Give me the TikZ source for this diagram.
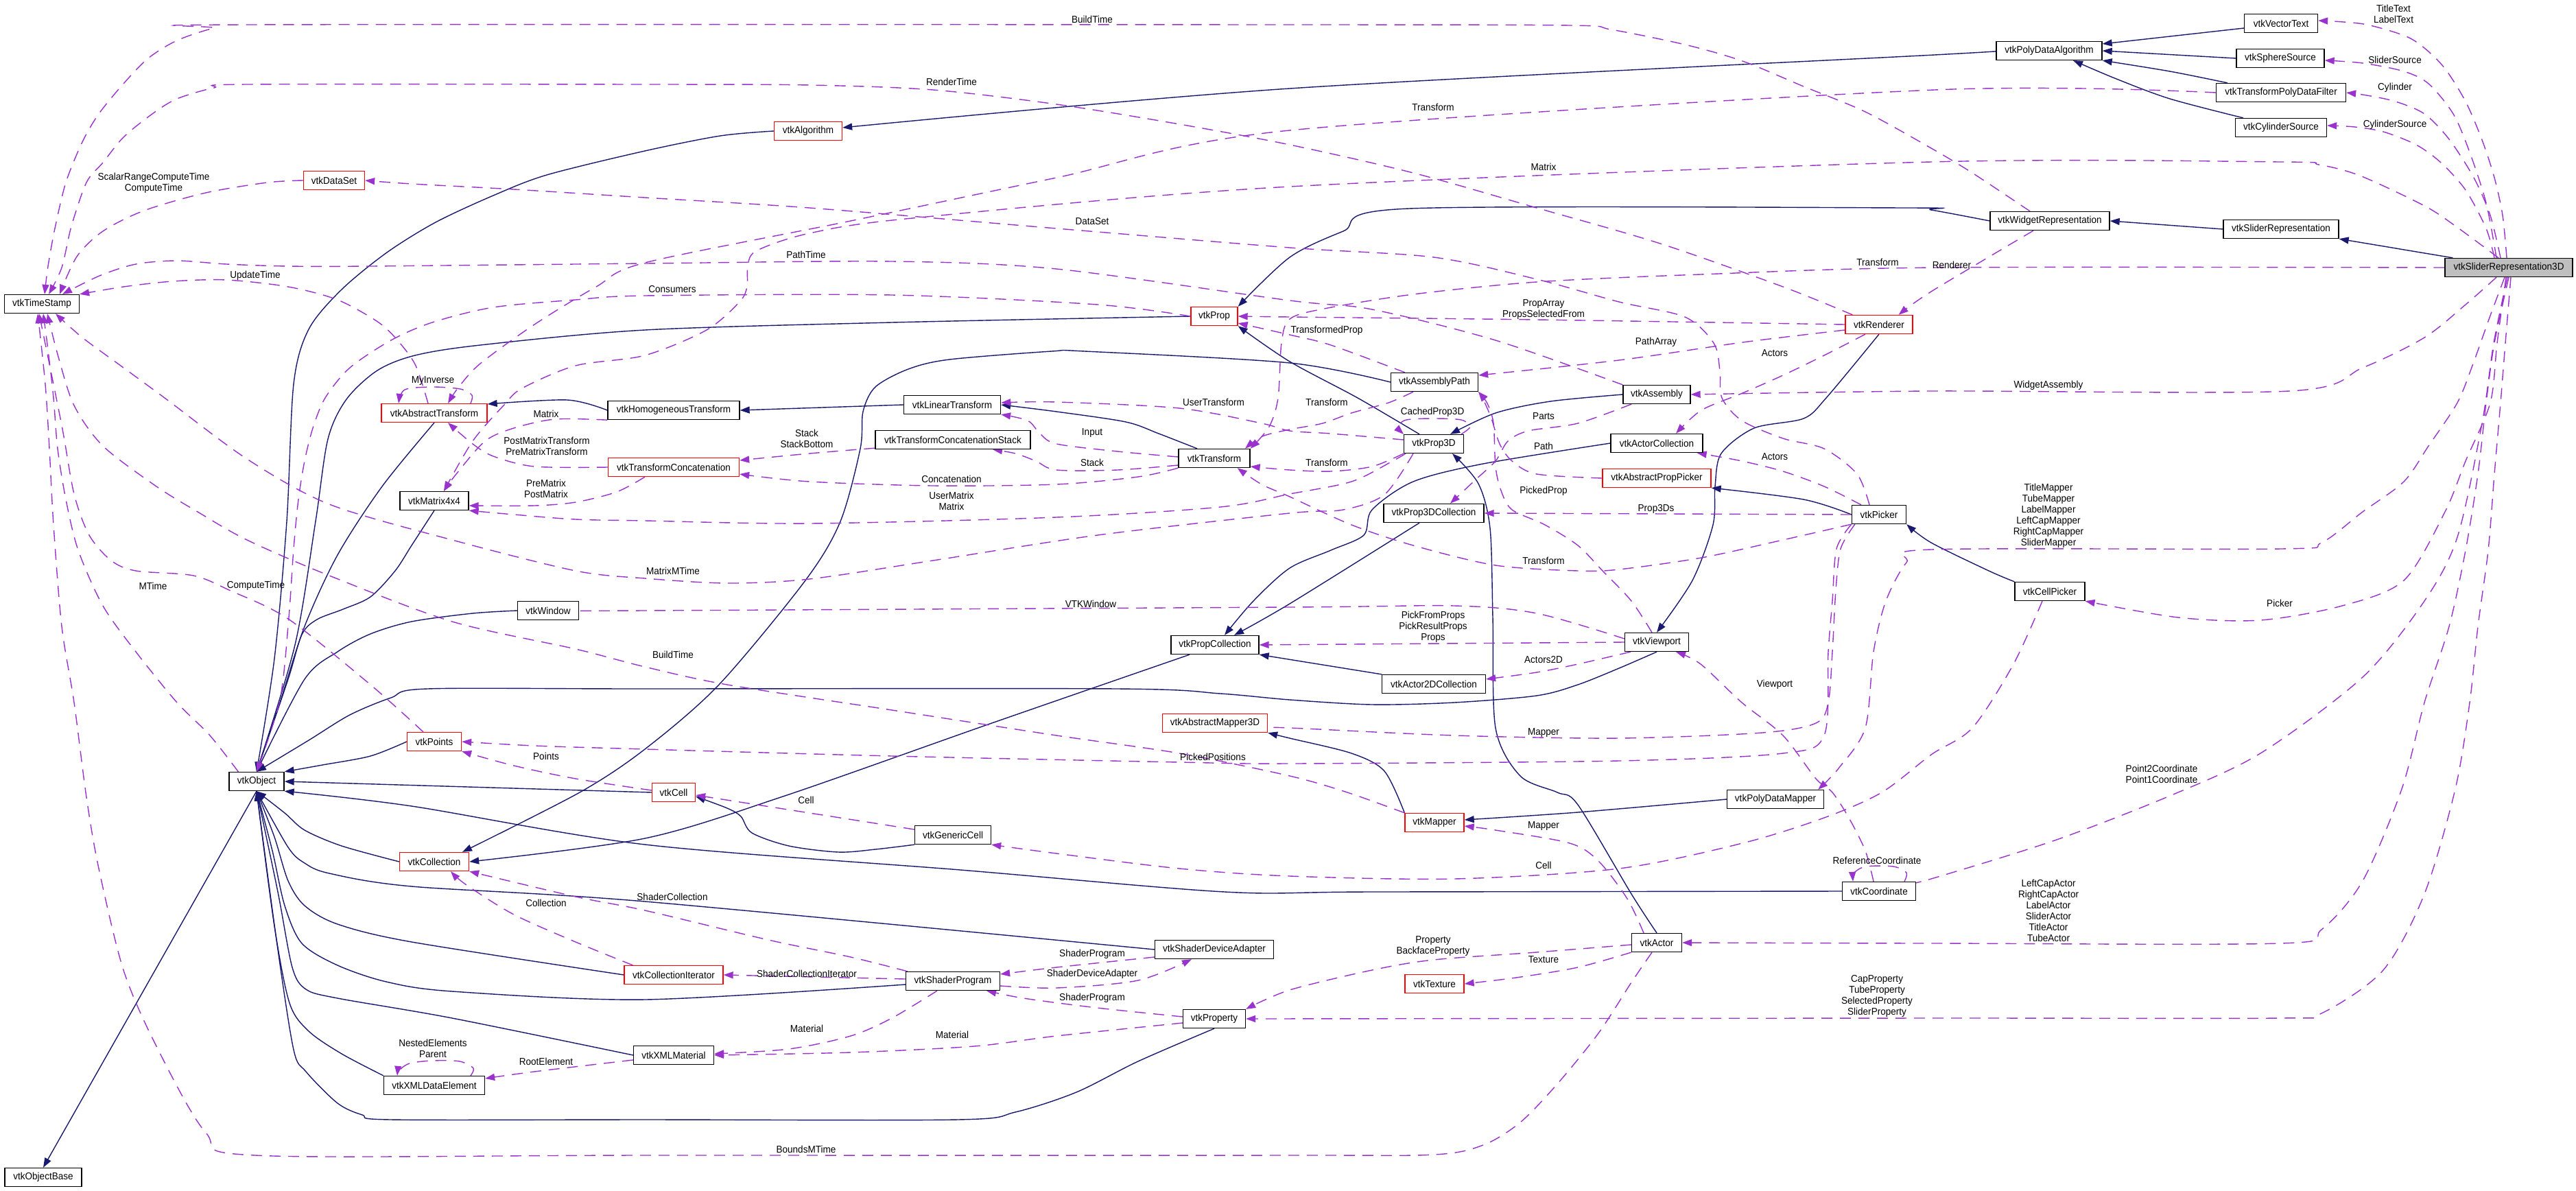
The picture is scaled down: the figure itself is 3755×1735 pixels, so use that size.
\documentclass[tikz,border=0pt]{standalone}
\usepackage{fontspec}
\setmainfont{Liberation Sans}[FakeStretch=0.94]
\usetikzlibrary{arrows.meta,calc}
\definecolor{midblue}{HTML}{191970}
\definecolor{orchid}{HTML}{9A32CD}
\definecolor{selgray}{HTML}{BFBFBF}
\pgfdeclarelayer{bg}
\pgfdeclarelayer{edges}
\pgfsetlayers{bg,edges,main}
\tikzset{
 cls/.style={draw=black, fill=white, line width=1.3pt, minimum height=27pt, inner sep=0pt, font=\fontsize{14.4}{16}\selectfont},
 redcls/.style={cls, draw=red},
 lbl/.style={inner sep=0pt, align=center, font=\fontsize{14.4}{16}\selectfont},
 inherit/.style={draw=midblue, line width=1.4pt, -{Triangle[length=14pt,width=10pt]}},
 usage/.style={draw=orchid, line width=1.4pt, dash pattern=on 16pt off 11pt, -{Triangle[length=14pt,width=10pt]}},
}
\begin{document}
\begin{tikzpicture}[x=1pt,y=-1pt]
\useasboundingbox (0,0) rectangle (3755,1735);
\begin{pgfonlayer}{bg}
\fill[white] (0,0) rectangle (3755,1735);
\end{pgfonlayer}
% ---------- classes ----------
\node[cls, minimum width=112pt] (objbase) at (63,1716) {vtkObjectBase};
\node[cls, minimum width=80pt] (obj) at (374,1139) {vtkObject};
\node[cls, minimum width=109pt] (ts) at (61,443) {vtkTimeStamp};
\node[redcls, minimum width=89pt] (dataset) at (487,263) {vtkDataSet};
\node[redcls, minimum width=99pt] (algo) at (1178,191) {vtkAlgorithm};
\node[cls, minimum width=154pt] (pda) at (2987,74) {vtkPolyDataAlgorithm};
\node[cls, minimum width=107pt] (vtext) at (3325,34) {vtkVectorText};
\node[cls, minimum width=128pt] (sphere) at (3324,85) {vtkSphereSource};
\node[cls, minimum width=189pt] (tpdf) at (3325,135) {vtkTransformPolyDataFilter};
\node[cls, minimum width=133pt] (cyl) at (3325,186) {vtkCylinderSource};
\node[cls, minimum width=174pt] (wrep) at (2988,322) {vtkWidgetRepresentation};
\node[cls, minimum width=168pt] (srep) at (3325,334) {vtkSliderRepresentation};
\node[cls, fill=selgray, minimum width=186pt] (srep3d) at (3657,390) {vtkSliderRepresentation3D};
\node[redcls, minimum width=68pt] (prop) at (1770,461) {vtkProp};
\node[redcls, minimum width=98pt] (ren) at (2739,473) {vtkRenderer};
\node[cls, minimum width=127pt] (apath) at (2091,557) {vtkAssemblyPath};
\node[cls, minimum width=98pt] (assembly) at (2415,575) {vtkAssembly};
\node[redcls, minimum width=154pt] (atrans) at (633,602) {vtkAbstractTransform};
\node[cls, minimum width=192pt] (htrans) at (982,598) {vtkHomogeneousTransform};
\node[cls, minimum width=141pt] (ltrans) at (1388,590) {vtkLinearTransform};
\node[cls, minimum width=226pt] (tcs) at (1389,641) {vtkTransformConcatenationStack};
\node[redcls, minimum width=191pt] (tconc) at (982,681) {vtkTransformConcatenation};
\node[cls, minimum width=104pt] (trans) at (1770,668) {vtkTransform};
\node[cls, minimum width=100pt] (m44) at (633,730) {vtkMatrix4x4};
\node[cls, minimum width=87pt] (prop3d) at (2090,647) {vtkProp3D};
\node[cls, minimum width=134pt] (actcoll) at (2415,646) {vtkActorCollection};
\node[redcls, minimum width=158pt] (appick) at (2415,697) {vtkAbstractPropPicker};
\node[cls, minimum width=146pt] (p3dcoll) at (2090,748) {vtkProp3DCollection};
\node[cls, minimum width=79pt] (picker) at (2739,750) {vtkPicker};
\node[cls, minimum width=89pt] (window) at (799,890) {vtkWindow};
\node[cls, minimum width=128pt] (propcoll) at (1771,940) {vtkPropCollection};
\node[cls, minimum width=93pt] (viewport) at (2415,936) {vtkViewport};
\node[cls, minimum width=151pt] (a2dcoll) at (2090,997) {vtkActor2DCollection};
\node[cls, minimum width=102pt] (cellpicker) at (2988,862) {vtkCellPicker};
\node[redcls, minimum width=153pt] (am3d) at (1771,1054) {vtkAbstractMapper3D};
\node[redcls, minimum width=79pt] (points) at (633,1081) {vtkPoints};
\node[redcls, minimum width=63pt] (cell) at (982,1155) {vtkCell};
\node[redcls, minimum width=86pt] (mapper) at (2091,1199) {vtkMapper};
\node[cls, minimum width=141pt] (pdmapper) at (2588,1165) {vtkPolyDataMapper};
\node[cls, minimum width=111pt] (gcell) at (1389,1217) {vtkGenericCell};
\node[redcls, minimum width=101pt] (coll) at (633,1256) {vtkCollection};
\node[cls, minimum width=107pt] (coord) at (2739,1299) {vtkCoordinate};
\node[cls, minimum width=73pt] (actor) at (2415,1374) {vtkActor};
\node[redcls, minimum width=144pt] (colliter) at (982,1421) {vtkCollectionIterator};
\node[cls, minimum width=173pt] (sda) at (1770,1384) {vtkShaderDeviceAdapter};
\node[cls, minimum width=137pt] (sprog) at (1389,1430) {vtkShaderProgram};
\node[cls, minimum width=91pt] (property) at (1770,1485) {vtkProperty};
\node[redcls, minimum width=86pt] (texture) at (2091,1434) {vtkTexture};
\node[cls, minimum width=117pt] (xmlmat) at (982,1538) {vtkXMLMaterial};
\node[cls, minimum width=147pt] (xmlde) at (633,1582) {vtkXMLDataElement};
% ---------- labels ----------
\node[lbl] (l01) at (1592,28) {BuildTime};
\node[lbl] (l02) at (1387,119) {RenderTime};
\node[lbl] (l03) at (224,267) {ScalarRangeComputeTime\\ComputeTime};
\node[lbl] (l04) at (372,402) {UpdateTime};
\node[lbl] (l05) at (631,555) {MyInverse};
\node[lbl] (l06) at (1592,323) {DataSet};
\node[lbl] (l07) at (1175,371) {PathTime};
\node[lbl] (l08) at (980,422) {Consumers};
\node[lbl] (l09) at (2089,156) {Transform};
\node[lbl] (l10) at (2250,243) {Matrix};
\node[lbl] (l11) at (2737,382) {Transform};
\node[lbl] (l12) at (2845,386) {Renderer};
\node[lbl] (l13) at (2250,451) {PropArray\\PropsSelectedFrom};
\node[lbl] (l14) at (1934,482) {TransformedProp};
\node[lbl] (l15) at (2414,499) {PathArray};
\node[lbl] (l16) at (2587,515) {Actors};
\node[lbl] (l17) at (3489,20) {TitleText\\LabelText};
\node[lbl] (l18) at (3491,87) {SliderSource};
\node[lbl] (l19) at (3491,128) {Cylinder};
\node[lbl] (l20) at (3491,182) {CylinderSource};
\node[lbl] (l21) at (2986,562) {WidgetAssembly};
\node[lbl] (l22) at (796,603) {Matrix};
\node[lbl] (l23) at (797,650) {PostMatrixTransform\\PreMatrixTransform};
\node[lbl] (l24) at (796,712) {PreMatrix\\PostMatrix};
\node[lbl] (l25) at (1769,586) {UserTransform};
\node[lbl] (l26) at (1176,639) {Stack\\StackBottom};
\node[lbl] (l27) at (1592,631) {Input};
\node[lbl] (l28) at (1592,674) {Stack};
\node[lbl] (l29) at (1387,698) {Concatenation};
\node[lbl] (l30) at (1387,730) {UserMatrix\\Matrix};
\node[lbl] (l31) at (1934,586) {Transform};
\node[lbl] (l32) at (2088,601) {CachedProp3D};
\node[lbl] (l33) at (2250,607) {Parts};
\node[lbl] (l34) at (2250,650) {Path};
\node[lbl] (l35) at (1934,674) {Transform};
\node[lbl] (l36) at (2587,666) {Actors};
\node[lbl] (l37) at (2250,716) {PickedProp};
\node[lbl] (l38) at (2414,742) {Prop3Ds};
\node[lbl] (l39) at (2250,817) {Transform};
\node[lbl] (l40) at (981,832) {MatrixMTime};
\node[lbl] (l41) at (223,854) {MTime};
\node[lbl] (l42) at (373,854) {ComputeTime};
\node[lbl] (l43) at (1590,880) {VTKWindow};
\node[lbl] (l44) at (2089,914) {PickFromProps\\PickResultProps\\Props};
\node[lbl] (l45) at (981,954) {BuildTime};
\node[lbl] (l46) at (2250,962) {Actors2D};
\node[lbl] (l47) at (2587,998) {Viewport};
\node[lbl] (l48) at (2250,1068) {Mapper};
\node[lbl] (l49) at (1768,1103) {PickedPositions};
\node[lbl] (l50) at (796,1102) {Points};
\node[lbl] (l51) at (2986,752) {TitleMapper\\TubeMapper\\LabelMapper\\LeftCapMapper\\RightCapMapper\\SliderMapper};
\node[lbl] (l52) at (3323,879) {Picker};
\node[lbl] (l53) at (3151,1128) {Point2Coordinate\\Point1Coordinate};
\node[lbl] (l54) at (1175,1166) {Cell};
\node[lbl] (l55) at (2250,1204) {Mapper};
\node[lbl] (l56) at (2250,1261) {Cell};
\node[lbl] (l57) at (2736,1254) {ReferenceCoordinate};
\node[lbl] (l58) at (796,1316) {Collection};
\node[lbl] (l59) at (980,1307) {ShaderCollection};
\node[lbl] (l60) at (2986,1327) {LeftCapActor\\RightCapActor\\LabelActor\\SliderActor\\TitleActor\\TubeActor};
\node[lbl] (l61) at (2089,1379) {Property\\BackfaceProperty};
\node[lbl] (l62) at (1592,1391) {ShaderProgram};
\node[lbl] (l63) at (2250,1399) {Texture};
\node[lbl] (l64) at (1176,1419) {ShaderCollectionIterator};
\node[lbl] (l65) at (1592,1420) {ShaderDeviceAdapter};
\node[lbl] (l66) at (2736,1452) {CapProperty\\TubeProperty\\SelectedProperty\\SliderProperty};
\node[lbl] (l67) at (1592,1455) {ShaderProgram};
\node[lbl] (l68) at (1176,1499) {Material};
\node[lbl] (l69) at (1388,1508) {Material};
\node[lbl] (l70) at (631,1528) {NestedElements\\Parent};
\node[lbl] (l71) at (796,1547) {RootElement};
\node[lbl] (l72) at (1175,1675) {BoundsMTime};
% ---------- edges ----------
\begin{pgfonlayer}{edges}
% inheritance
\draw[inherit] (obj.south) -- (objbase.north);
\draw[inherit] plot[smooth] coordinates {(algo.west) (1050,198) (940,220) (797,255) (719,285) (635,324) (564,368) (498,422) (450,480) (428,560) (418,760) (400,960) (obj.north)};
\draw[inherit] plot[smooth] coordinates {(prop.west) (1300,470) (940,481) (700,503) (605,518) (550,540) (505,582) (478,640) (460,760) (430,940) (obj.north)};
\draw[inherit] plot[smooth] coordinates {(atrans.south) (557,709) (492,809) (444,913) (408,1024) (obj.north)};
\draw[inherit] plot[smooth] coordinates {(m44.south) (600,795) (576,832) (540,870) (500,888) (462,903) (440,925) (420,990) (obj.north)};
\draw[inherit] plot[smooth] coordinates {(window.west) (689,894) (600,906) (540,924) (492,950) (444,990) (obj.north)};
\draw[inherit] plot[smooth] coordinates {(viewport.south) (2360,974) (2300,998) (2240,1014) (2120,1024) (2000,1027) (1880,1020) (1779,1011) (1629,1004) (940,1004) (623,1004) (570,1017) (510,1042) (450,1079) (obj.north)};
\draw[inherit] plot[smooth] coordinates {(points.west) (540,1102) (470,1115) (obj.north east)};
\draw[inherit] (cell.west) -- (obj.east);
\draw[inherit] plot[smooth] coordinates {(coord.west) (2000,1300) (1785,1300) (1400,1268) (940,1231) (600,1175) (obj.south east)};
\draw[inherit] plot[smooth] coordinates {(coll.west) (498,1233) (444,1210) (415,1185) (obj.south)};
\draw[inherit] plot[smooth] coordinates {(sda.west) (940,1314) (600,1292) (480,1273) (444,1258) (420,1235) (obj.south)};
\draw[inherit] plot[smooth] coordinates {(colliter.west) (600,1373) (492,1347) (444,1320) (420,1284) (400,1220) (obj.south)};
\draw[inherit] plot[smooth] coordinates {($(sprog.west)+(0,5)$) (940,1457) (659,1445) (563,1431) (492,1407) (440,1375) (415,1320) (397,1240) (obj.south)};
\draw[inherit] plot[smooth] coordinates {(xmlmat.west) (659,1484) (492,1455) (446,1442) (426,1410) (405,1300) (obj.south)};
\draw[inherit] plot[smooth] coordinates {(xmlde.north west) (498,1536) (450,1503) (422,1462) (400,1350) (obj.south)};
\draw[inherit] plot[smooth] coordinates {(property.south) (1659,1547) (1569,1592) (1480,1621) (1396,1632) (940,1632) (570,1632) (528,1625) (492,1608) (446,1562) (428,1530) (404,1377) (obj.south)};
\draw[inherit] plot[smooth] coordinates {(htrans.west) (827,583) ($(atrans.east)+(0,-13)$)};
\draw[inherit] (ltrans.west) -- (htrans.east);
\draw[inherit] plot[smooth] coordinates {($(trans.north)+(-25,0)$) (1689,632) (1641,615) (1540,600) (ltrans.east)};
\draw[inherit] plot[smooth] coordinates {(pda.west) (2820,80) (1880,129) ($(algo.east)+(0,-5)$)};
\draw[inherit] ($(vtext.west)+(0,7)$) -- ($(pda.east)+(0,-10)$);
\draw[inherit] (sphere.west) -- (pda.east);
\draw[inherit] plot[smooth] coordinates {($(tpdf.north west)+(17,0)$) (3163,104) (pda.south east)};
\draw[inherit] plot[smooth] coordinates {($(cyl.north west)+(12,0)$) (3163,144) (3085,115) ($(pda.south)+(35,0)$)};
\draw[inherit] (srep.west) -- (wrep.east);
\draw[inherit] ($(srep3d.north west)+(12,0)$) -- (srep.south east);
\draw[inherit] plot[smooth] coordinates {(wrep.west) (2815,306) (2779,303) (2054,304) (1958,337) (1880,375) (prop.north east)};
\draw[inherit] plot[smooth] coordinates {($(prop3d.north)+(-21,0)$) (1979,580) (1880,527) (prop.south east)};
\draw[inherit] plot[smooth] coordinates {(apath.west) (1880,529) (1581,512) (1533,512) (1384,524) (1324,538) (1276,564) (1258,600) (1254,654) (1225,760) (1174,846) (1048,998) (940,1092) (845,1155) ($(coll.north)+(41,0)$)};
\draw[inherit] plot[smooth] coordinates {(assembly.west) (2260,585) (2180,602) ($(prop3d.north)+(24,0)$)};
\draw[inherit] plot[smooth] coordinates {(actor.north) (2378,1303) (2300,1173) (2270,1155) (2216,1131) (2180,1061) (2176,900) (2172,770) (2155,705) ($(prop3d.south)+(27,0)$)};
\draw[inherit] plot[smooth] coordinates {(ren.south) (2662,580) (2629,610) (2557,624) (2509,661) (2500,709) (2497,765) (2467,846) (viewport.north)};
\draw[inherit] plot[smooth] coordinates {(actcoll.west) (2162,676) (2060,702) (2000,743) (1988,780) (1940,802) (1880,828) (1827,876) ($(propcoll.north)+(14,0)$)};
\draw[inherit] plot[smooth] coordinates {($(p3dcoll.south)+(-21,0)$) (1880,880) ($(propcoll.north)+(28,0)$)};
\draw[inherit] (a2dcoll.north west) -- (propcoll.south east);
\draw[inherit] plot[smooth] coordinates {(picker.west) (2629,728) (appick.south east)};
\draw[inherit] plot[smooth] coordinates {(cellpicker.north west) (2899,832) (2815,791) (picker.south east)};
\draw[inherit] plot[smooth] coordinates {(mapper.north west) (2018,1124) (1970,1098) (1880,1076) (am3d.south east)};
\draw[inherit] plot[smooth] coordinates {(pdmapper.west) (2300,1184) ($(mapper.east)+(0,-4)$)};
\draw[inherit] plot[smooth] coordinates {(gcell.south west) (1276,1238) (1222,1242) (1150,1233) (1096,1214) (1080,1190) (1060,1178) ($(cell.east)+(0,6)$)};
\draw[inherit] plot[smooth] coordinates {($(propcoll.south)+(-37,0)$) (1440,1056) (1144,1160) (940,1222) (coll.east)};
% usage
\draw[usage] plot[smooth] coordinates {($(wrep.north)+(-29,0)$) (2875,252) (2815,216) (2719,163) (2629,126) (2540,89) (2456,65) (2348,43) (2288,37) (1880,36) (360,36) (312,41) (258,59) (216,85) (180,122) (144,166) (120,207) (96,266) (80,333) (70,388) ($(ts.north)+(4,0)$)};
\draw[usage] plot[smooth] coordinates {($(ren.north west)+(11,0)$) (2599,418) (2420,355) (2240,303) (2060,252) (1880,211) (1719,181) (1540,152) (1360,131) (1180,124) (940,123) (360,123) (312,128) (258,144) (222,166) (180,200) (150,237) (126,266) (104,330) (90,390) ($(ts.north)+(10,0)$)};
\draw[usage] plot[smooth] coordinates {(dataset.west) (390,266) (300,281) (210,307) (150,337) (112,374) ($(ts.north)+(26,0)$)};
\draw[usage] plot[smooth] coordinates {(assembly.north west) (2180,496) (2000,451) (1880,438) (1540,392) (1300,381) (940,384) (540,388) (420,388) (330,385) (258,380) (198,385) (145,402) ($(ts.north)+(30,0)$)};
\draw[usage] plot[smooth] coordinates {($(atrans.north)+(-9,0)$) (606,533) (582,499) (552,470) (492,437) (420,418) (330,408) (252,410) (180,418) (ts.north east)};
\draw[usage] plot[smooth] coordinates {($(atrans.north)+(53,0)$) (688,576) (671,567) (630,564) (590,568) ($(atrans.north)+(-52,0)$)};
\draw[usage] plot[smooth] coordinates {(tpdf.west) (2820,131) (1880,190) (1540,259) (1240,322) (940,383) (869,418) (779,473) (700,530) (668,565) ($(atrans.north)+(20,0)$)};
\draw[usage] plot[smooth] coordinates {($(srep3d.north)+(-15,0)$) (3580,330) (3534,300) (3440,256) (3380,240) (3325,236) (2815,236) (1880,272) (1330,318) (1180,340) (1102,366) (1090,390) (1089,418) (1078,440) (1030,481) (940,518) (839,533) (761,566) (735,590) (689,643) ($(m44.north)+(14,0)$)};
\draw[usage] plot[smooth] coordinates {(htrans.south west) (809,611) (749,624) (707,643) (665,691) ($(m44.north)+(14,0)$)};
\draw[usage] plot[smooth] coordinates {(tconc.west) (779,680) (719,665) (689,647) ($(atrans.south)+(20,0)$)};
\draw[usage] plot[smooth] coordinates {($(tconc.south)+(-42,0)$) (899,717) (839,732) (779,737) ($(m44.east)+(0,7)$)};
\draw[usage] plot[smooth] coordinates {($(prop3d.south west)+(3,0)$) (2030,672) (1970,702) (1880,720) (1779,739) (1540,754) (1180,763) (940,759) (839,757) (749,750) (m44.south east)};
\draw[usage] plot[smooth] coordinates {($(prop3d.west)+(0,-6)$) (1940,632) (1880,628) (1839,617) (1719,595) (1540,586) ($(ltrans.east)+(0,-3)$)};
\draw[usage] plot[smooth] coordinates {($(trans.west)+(0,-2)$) (1629,658) (1540,647) (1516,632) (1498,613) (ltrans.south east)};
\draw[usage] plot[smooth] coordinates {($(trans.west)+(0,10)$) (1629,685) (1540,685) (1510,672) (1480,661) ($(tcs.south)+(58,0)$)};
\draw[usage] plot[smooth] coordinates {(trans.south west) (1659,695) (1540,706) (1360,708) (1180,702) ($(tconc.east)+(0,10)$)};
\draw[usage] plot[smooth] coordinates {($(tcs.south west)+(0,-2)$) (1180,661) ($(tconc.east)+(0,-10)$)};
\draw[usage] plot[smooth] coordinates {(prop3d.south west) (2000,680) (1940,687) (1880,685) ($(trans.east)+(0,12)$)};
\draw[usage] plot[smooth] coordinates {($(apath.south)+(-31,0)$) (2024,587) (1970,602) (1928,617) (1880,626) (1840,636) ($(trans.north)+(45,0)$)};
\draw[usage] plot[smooth] coordinates {(srep3d.west) (2820,390) (2479,400) (2240,411) (2060,429) (1930,450) (1880,465) (1868,500) (1863,580) (1850,622) (trans.north east)};
\draw[usage] plot[smooth] coordinates {($(wrep.south)+(-24,0)$) (2815,425) ($(ren.north east)+(-21,0)$)};
\draw[usage] plot[smooth] coordinates {(ren.west) (2240,466) (1880,462) (prop.east)};
\draw[usage] plot[smooth] coordinates {($(apath.north west)+(21,0)$) (1940,503) (1880,488) ($(prop.east)+(0,10)$)};
\draw[usage] plot[smooth] coordinates {(prop.west) (1600,444) (1300,430) (940,431) (839,437) (719,448) (630,470) (570,496) (510,536) (474,580) (456,624) (444,672) (435,728) (428,800) (421,900) (408,1020) (obj.north)};
\draw[usage] plot[smooth] coordinates {($(picker.north)+(-14,0)$) (2707,691) (2659,654) (2599,639) (2539,613) (2510,580) (2507,540) (2498,500) (2456,462) (2360,440) (2240,407) (2090,375) (1880,361) (1540,333) (1180,303) (940,288) (749,276) (600,268) (dataset.east)};
\draw[usage] plot[smooth] coordinates {($(ren.west)+(0,8)$) (2540,499) (2360,525) ($(apath.east)+(0,-10)$)};
\draw[usage] plot[smooth] coordinates {($(ren.south)+(-20,0)$) (2659,518) (2599,547) (2540,573) (2480,598) ($(actcoll.north)+(28,0)$)};
\draw[usage] plot[smooth] coordinates {($(picker.north)+(-26,0)$) (2659,709) (2599,687) (2539,672) ($(actcoll.south east)+(-9,0)$)};
\draw[usage] plot[smooth] coordinates {($(assembly.south)+(-37,0)$) (2300,617) (2228,628) (2198,643) (2180,672) (2150,700) ($(p3dcoll.north)+(24,0)$)};
\draw[usage] plot[smooth] coordinates {(appick.west) (2240,691) (2204,672) (2186,647) (2174,610) (2162,582) (apath.south east)};
\draw[usage] plot[smooth] coordinates {($(viewport.north)+(-7,0)$) (2378,876) (2336,832) (2300,795) (2252,765) (2204,743) (2188,715) (2180,680) (2177,617) (2168,588) (apath.south east)};
\draw[usage] (picker.west) -- (p3dcoll.east);
\draw[usage] plot[smooth] coordinates {(picker.south west) (2599,787) (2480,813) (2360,830) (2300,832) (2180,824) (2060,795) (1970,765) (1880,724) (1839,706) ($(trans.south east)+(-19,0)$)};
\draw[usage] plot[smooth] coordinates {($(prop3d.south)+(-30,0)$) (2018,721) (1958,743) (1880,748) (1600,780) (1360,817) (1180,844) (1060,850) (940,843) (839,832) (659,787) (480,735) (360,669) (240,580) (180,536) (120,492) ($(ts.south)+(20,0)$)};
\draw[usage] plot[smooth] coordinates {($(viewport.west)+(0,-5)$) (2240,894) (2120,883) (1880,885) (940,890) (window.east)};
\draw[usage] (viewport.west) -- (propcoll.east);
\draw[usage] plot[smooth] coordinates {($(viewport.south west)+(9,0)$) (2300,968) (2240,980) ($(a2dcoll.east)+(0,-7)$)};
\draw[usage] plot[smooth] coordinates {($(coord.north)+(-8,0)$) (2719,1240) (2695,1192) (2671,1155) (2647,1135) (2599,1072) (2539,1024) (2479,968) ($(viewport.south)+(28,0)$)};
\draw[usage] plot[smooth] coordinates {($(coord.north)+(37,0)$) (2779,1272) (2760,1263) (2720,1263) (2703,1272) ($(coord.north)+(-38,0)$)};
\draw[usage] plot[smooth] coordinates {($(prop3d.north)+(40,0)$) (2143,622) (2130,612) (2090,610) (2050,612) (2038,622) ($(prop3d.north)+(-44,0)$)};
\draw[usage] plot[smooth] coordinates {($(picker.south west)+(5,0)$) (2683,800) (2676,860) (2671,950) (2665,1024) (2647,1054) (2569,1068) (2360,1076) (2120,1072) (1880,1061) ($(am3d.east)+(0,7)$)};
\draw[usage] plot[smooth] coordinates {(picker.south west) (2677,800) (2671,876) (2665,950) (2659,1072) (2599,1098) (2360,1109) (1880,1113) (1719,1111) (1300,1102) (940,1092) (779,1087) (points.east)};
\draw[usage] plot[smooth] coordinates {(mapper.north west) (1964,1155) (1880,1131) (1719,1098) (1540,1072) (1300,1035) (1060,998) (940,972) (839,946) (659,906) (480,839) (360,787) (288,746) (228,709) (150,650) (108,591) (85,520) ($(ts.south)+(8,0)$)};
\draw[usage] plot[smooth] coordinates {($(obj.north west)+(14,0)$) (306,1072) (258,1024) (198,950) (150,883) (114,802) (96,728) (84,654) (78,580) (70,510) ($(ts.south)+(2,0)$)};
\draw[usage] plot[smooth] coordinates {($(points.north)+(-16,0)$) (540,998) (420,902) (336,861) (282,839) (198,832) (162,817) (130,780) (108,720) (90,620) ($(ts.south)+(-4,0)$)};
\draw[usage] plot[smooth] coordinates {($(actor.south)+(-7,0)$) (2378,1432) (2330,1506) (2270,1580) (2216,1636) (2162,1669) (2090,1683) (1880,1684) (940,1684) (372,1684) (300,1651) (228,1525) (180,1414) (144,1266) (126,1162) (108,1024) (90,913) (78,765) (72,654) (66,560) ($(ts.south)+(-6,0)$)};
\draw[usage] plot[smooth] coordinates {($(cell.west)+(0,-3)$) (839,1135) (749,1116) (points.south east)};
\draw[usage] plot[smooth] coordinates {($(gcell.west)+(0,-8)$) (1180,1185) ($(cell.east)+(0,4)$)};
\draw[usage] plot[smooth] coordinates {($(cellpicker.south)+(-11,0)$) (2935,968) (2875,1061) (2815,1100) (2743,1155) (2659,1192) (2540,1229) (2360,1266) (2120,1281) (1880,1277) (1719,1266) (1540,1244) (gcell.south east)};
\draw[usage] plot[smooth] coordinates {($(colliter.north west)+(13,0)$) (839,1373) (749,1333) (680,1290) ($(coll.south)+(24,0)$)};
\draw[usage] plot[smooth] coordinates {($(sprog.north west)+(3,0)$) (1240,1395) (1120,1370) (940,1327) (839,1307) (coll.south east)};
\draw[usage] ($(sprog.west)+(0,-3)$) -- (colliter.east);
\draw[usage] plot[smooth] coordinates {($(sda.west)+(0,11)$) (1540,1410) ($(sprog.east)+(0,-10)$)};
\draw[usage] plot[smooth] coordinates {($(sprog.east)+(0,7)$) (1540,1440) (1659,1429) ($(sda.south)+(-33,0)$)};
\draw[usage] plot[smooth] coordinates {($(property.west)+(0,-3)$) (1599,1469) (1492,1455) ($(sprog.south east)+(-20,0)$)};
\draw[usage] plot[smooth] coordinates {($(sprog.south)+(-23,0)$) (1300,1484) (1240,1510) (1150,1529) ($(xmlmat.east)+(0,-2)$)};
\draw[usage] plot[smooth] coordinates {($(property.west)+(0,6)$) (1540,1510) (1420,1525) (1240,1534) (xmlmat.east)};
\draw[usage] plot[smooth] coordinates {($(xmlmat.west)+(0,7)$) (779,1562) ($(xmlde.east)+(0,-10)$)};
\draw[usage] plot[smooth] coordinates {($(xmlde.north)+(53,0)$) (690,1557) (670,1547) (630,1546) (597,1550) (582,1560) ($(xmlde.north)+(-54,0)$)};
\draw[usage] plot[smooth] coordinates {($(actor.west)+(0,3)$) (2240,1388) (2090,1399) (2000,1414) (1880,1443) (property.north east)};
\draw[usage] plot[smooth] coordinates {(actor.south west) (2300,1410) (2210,1425) (texture.east)};
\draw[usage] plot[smooth] coordinates {($(actor.north)+(-19,0)$) (2372,1310) (2330,1255) (2288,1229) (2180,1210) ($(mapper.east)+(0,5)$)};
\draw[usage] plot[smooth] coordinates {($(srep3d.north)+(-3,0)$) (3648,314) (3636,259) (3618,204) (3594,148) (3564,100) (3534,70) (3505,52) (3445,35) ($(vtext.east)+(0,-4)$)};
\draw[usage] plot[smooth] coordinates {($(srep3d.north)+(-18,0)$) (3624,296) (3600,222) (3576,166) (3540,122) (3504,104) (3444,92) ($(sphere.east)+(0,3)$)};
\draw[usage] plot[smooth] coordinates {($(srep3d.north)+(-12,0)$) (3630,314) (3606,259) (3570,203) (3534,166) (3492,148) (3450,139) (tpdf.east)};
\draw[usage] plot[smooth] coordinates {($(srep3d.north)+(-21,0)$) (3624,333) (3594,277) (3558,237) (3522,211) (3474,192) (3432,185) ($(cyl.east)+(0,-3)$)};
\draw[usage] plot[smooth] coordinates {($(srep3d.south)+(-18,0)$) (3594,444) (3534,492) (3444,536) (3337,570) (2815,570) (assembly.east)};
\draw[usage] plot[smooth] coordinates {($(srep3d.south)+(-6,0)$) (3630,460) (3605,530) (3582,587) (3540,650) (3504,702) (3444,746) (3384,791) (3325,800) (2815,801) (2779,820) (2749,876) (2731,950) (2719,1061) (2680,1120) ($(pdmapper.north east)+(-9,0)$)};
\draw[usage] plot[smooth] coordinates {($(srep3d.south)+(-4,0)$) (3640,500) (3630,587) (3594,672) (3564,746) (3504,846) (3414,883) (3295,904) (3175,900) (cellpicker.south east)};
\draw[usage] plot[smooth] coordinates {($(srep3d.south)+(-2,0)$) (3635,500) (3618,617) (3582,783) (3534,876) (3444,987) (3295,1098) (3163,1160) (2995,1225) (2815,1281) (coord.north east)};
\draw[usage] plot[smooth] coordinates {(srep3d.south) (3636,500) (3624,587) (3612,691) (3594,802) (3570,913) (3534,1024) (3501,1150) (3444,1284) (3384,1355) (3325,1375) (2815,1375) (actor.east)};
\draw[usage] plot[smooth] coordinates {($(srep3d.south)+(3,0)$) (3652,500) (3645,587) (3636,691) (3627,802) (3612,913) (3600,1024) (3579,1150) (3534,1303) (3474,1414) (3384,1477) (3325,1484) (2815,1484) (property.east)};
\end{pgfonlayer}
\end{tikzpicture}
\end{document}
